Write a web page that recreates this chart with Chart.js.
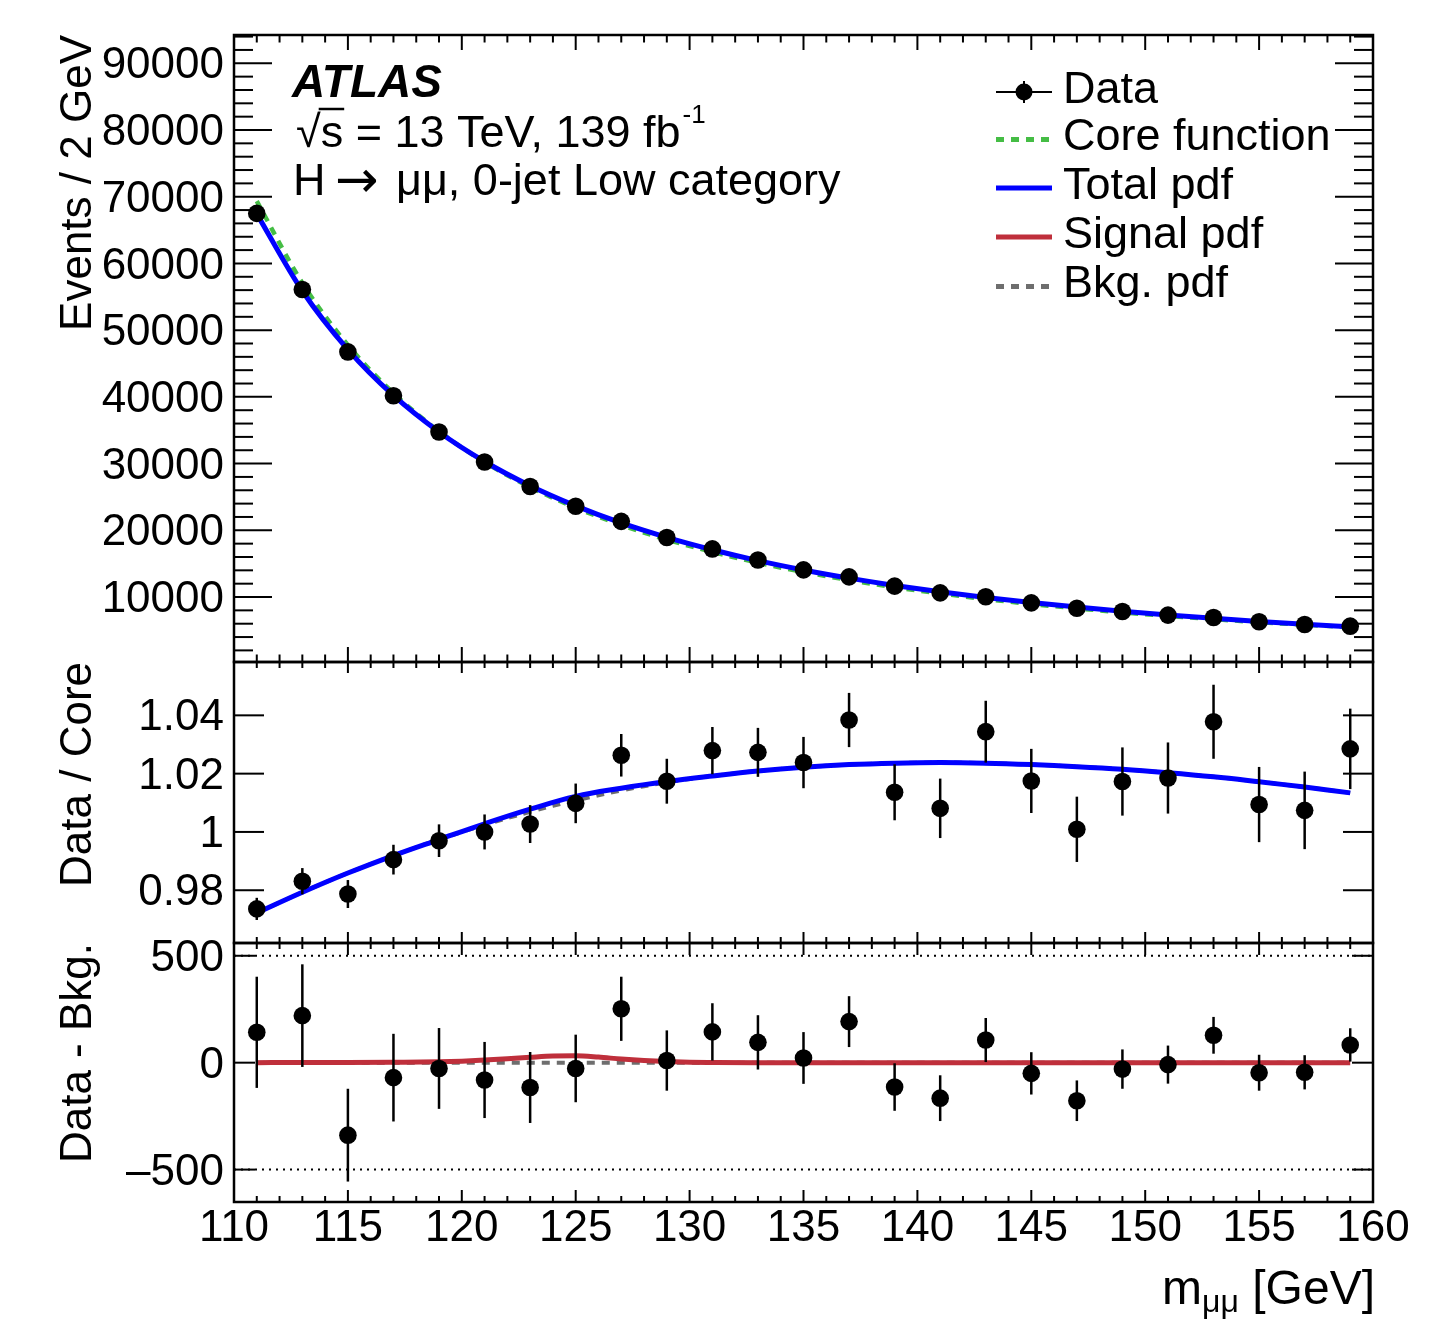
<!DOCTYPE html>
<html>
<head>
<meta charset="utf-8">
<script src="https://cdn.jsdelivr.net/npm/chart.js@4.4.1/dist/chart.umd.min.js"></script>
<style>
html,body{margin:0;padding:0;background:#fff;width:1449px;height:1321px;overflow:hidden;}
canvas{position:absolute;left:0;}
</style>
</head>
<body>
<canvas id="cTop" width="1449" height="700" style="top:0px"></canvas>
<canvas id="cMid" width="1449" height="360" style="top:620px"></canvas>
<canvas id="cBot" width="1449" height="421" style="top:900px"></canvas>
<script>
// ---------------- data ----------------
const masses = [111,113,115,117,119,121,123,125,127,129,131,133,135,137,139,141,143,145,147,149,151,153,155,157,159];
const eventsData = [67500,56100,46740,40160,34730,30230,26560,23610,21340,18930,17210,15550,14070,13020,11630,10620,10030,9120,8310,7830,7290,6930,6290,5880,5630];
const coreFunction = [69330,57060,47760,40550,34830,30230,26480,23390,20790,18610,16750,15140,13750,12540,11470,10530,9700,8960,8300,7700,7160,6680,6230,5840,5470];
const totalPdf = [67430,55870,47090,40210,34740,30310,26680,23660,21100,18940,17080,15460,14060,12830,11740,10780,9930,9170,8490,7870,7310,6800,6340,5920,5550];

const ratioData = [0.9736,0.9831,0.9787,0.9905,0.9970,1.0000,1.0027,1.0098,1.0263,1.0174,1.0279,1.0273,1.0238,1.0384,1.0136,1.0081,1.0344,1.0175,1.0009,1.0173,1.0185,1.0378,1.0094,1.0074,1.0285];
const ratioErr = [0.0038,0.0045,0.0048,0.0051,0.0056,0.0060,0.0065,0.0068,0.0073,0.0077,0.0081,0.0084,0.0088,0.0093,0.0096,0.0102,0.0106,0.0110,0.0112,0.0117,0.0122,0.0127,0.0129,0.0133,0.0138];
const ratioTotal = [0.9722,0.9793,0.9859,0.9919,0.9974,1.0028,1.0078,1.0122,1.0150,1.0173,1.0192,1.0209,1.0222,1.0231,1.0236,1.0238,1.0236,1.0231,1.0224,1.0215,1.0203,1.0189,1.0172,1.0154,1.0134];
const ratioBkg = [0.9722,0.9793,0.9859,0.9919,0.9974,1.0024,1.0069,1.0108,1.0142,1.0170,1.0192,1.0209,1.0222,1.0231,1.0236,1.0238,1.0236,1.0231,1.0224,1.0215,1.0203,1.0189,1.0172,1.0154,1.0134];

const diffData = [142,220,-339,-70,-27,-81,-116,-27,252,10,144,95,22,192,-114,-166,106,-50,-178,-30,-9,128,-47,-45,83];
const diffErr = [260,240,217,205,189,178,166,158,150,141,134,127,121,119,111,107,103,99,95,92,89,86,84,80,78];

const signalMass = [111,113,115,117,119,120,121,122,123,124,125,126,127,128,129,130,131,133,135,140,145,150,155,159];
const signalPdf = [0,1,1,2,4,7,12,18,25,31,32,26,17,10,5,2,1,0,0,0,0,0,0,0];
const bkgResidualMass = [111,159];
const bkgResidual = [0,0];

const xTicks = [110,115,120,125,130,135,140,145,150,155,160];
const eventsTicks = [10000,20000,30000,40000,50000,60000,70000,80000,90000];
const ratioTicks = [0.98,1,1.02,1.04];
const diffTicks = [-500,0,500];
const diffRefLines = [-500,500];

const legendLabels = ['Data','Core function','Total pdf','Signal pdf','Bkg. pdf'];

// ---------------- styling ----------------
const FONT = '"Liberation Sans", Arial, Helvetica, sans-serif';
const GREEN = '#45bd45', BLUE = '#0000ff', RED = '#bf2f3b', GRAY = '#6e6e6e';
const X_MIN = 110, X_MAX = 160;

function pts(xs, ys){ return xs.map((x,i)=>({x:x, y:ys[i]})); }
function seg(ctx,x1,y1,x2,y2){ ctx.beginPath(); ctx.moveTo(x1,y1); ctx.lineTo(x2,y2); ctx.stroke(); }

function yAxis(min, max, tickVals, fmt, title){
  return {
    type:'linear', position:'left', min:min, max:max,
    afterBuildTicks: s => { s.ticks = tickVals.map(v => ({value:v})); },
    afterFit: s => { s.width = 234; },
    grid:{display:false, drawTicks:false},
    border:{display:false},
    ticks:{padding:10, labelOffset:3, color:'#000', autoSkip:false, font:{family:FONT, size:44, lineHeight:1.0}, callback: fmt},
    title:{display:true, text:title, align:'end', color:'#000', font:{family:FONT, size:44, lineHeight:1.2}, padding:{top:52, bottom:0}}
  };
}
function hiddenX(){ return {type:'linear', min:X_MIN, max:X_MAX, display:false}; }

function framePlugin(o){
  return {
    id:'rootFrame',
    afterDraw(chart){
      const ctx = chart.ctx, a = chart.chartArea, xs = chart.scales.x, ys = chart.scales.y;
      ctx.save();
      ctx.strokeStyle = '#000'; ctx.lineWidth = 2; ctx.setLineDash([]);
      for (let v = X_MIN; v <= X_MAX; v += 1){
        const px = xs.getPixelForValue(v);
        const len = (v % 5 === 0) ? o.xMaj : o.xMin;
        seg(ctx, px, a.bottom, px, a.bottom - len);
        seg(ctx, px, a.top, px, a.top + len);
      }
      o.yTicks.forEach(v => {
        const py = ys.getPixelForValue(v);
        seg(ctx, a.left, py, a.left + o.yMaj, py);
        seg(ctx, a.right, py, a.right - o.yMaj, py);
      });
      if (o.yMinorStep){
        for (let v = o.yMinorStep; v < ys.max; v += o.yMinorStep){
          if (v < ys.min || v % o.yMajorStep === 0) continue;
          const py = ys.getPixelForValue(v);
          seg(ctx, a.left, py, a.left + o.yMin, py);
          seg(ctx, a.right, py, a.right - o.yMin, py);
        }
      }
      ctx.lineWidth = 2.5;
      ctx.strokeRect(a.left, a.top, a.right - a.left, a.bottom - a.top);
      ctx.restore();
    }
  };
}

const errorBarPlugin = {
  id:'errBars',
  afterDatasetsDraw(chart){
    const ctx = chart.ctx, xs = chart.scales.x, ys = chart.scales.y;
    chart.data.datasets.forEach(ds => {
      if (!ds.errorBars) return;
      ctx.save(); ctx.strokeStyle = '#000'; ctx.lineWidth = 2.5; ctx.setLineDash([]);
      ds.data.forEach((p,i) => {
        const e = ds.errorBars[i], px = xs.getPixelForValue(p.x);
        seg(ctx, px, ys.getPixelForValue(p.y + e), px, ys.getPixelForValue(p.y - e));
      });
      ctx.restore();
    });
  }
};

const refLinePlugin = {
  id:'refLines',
  beforeDatasetsDraw(chart){
    const ctx = chart.ctx, a = chart.chartArea, ys = chart.scales.y;
    ctx.save(); ctx.strokeStyle = '#000'; ctx.lineWidth = 2; ctx.setLineDash([2,5]);
    diffRefLines.forEach(v => { const py = ys.getPixelForValue(v); seg(ctx, a.left, py, a.right, py); });
    ctx.restore();
  }
};

const annotationPlugin = {
  id:'annot',
  afterDraw(chart){
    const ctx = chart.ctx;
    ctx.save();
    ctx.fillStyle = '#000'; ctx.textBaseline = 'alphabetic'; ctx.textAlign = 'left';
    ctx.font = 'italic bold 46px ' + FONT;
    ctx.fillText('ATLAS', 292, 97);
    ctx.font = '45px ' + FONT;
    const wr = ctx.measureText('\u221A').width;
    ctx.fillText('\u221A', 296, 147);
    const xs = 296 + wr;
    ctx.fillText('s = 13 TeV, 139 fb', xs, 147);
    const wS = ctx.measureText('s').width;
    const wAll = ctx.measureText('s = 13 TeV, 139 fb').width;
    ctx.strokeStyle = '#000'; ctx.lineWidth = 2.5;
    seg(ctx, xs - 2, 109, xs + wS + 1, 109);
    ctx.font = '26px ' + FONT;
    ctx.fillText('-1', xs + wAll + 2, 123);
    ctx.font = '45px ' + FONT;
    ctx.fillText('H', 293, 195);
    ctx.font = '52px "DejaVu Sans", ' + FONT;
    ctx.fillText('\u2192', 335, 197);
    ctx.font = '45px ' + FONT;
    ctx.fillText('\u03BC\u03BC, 0-jet Low category', 396, 195);

    // legend
    const rows = [92, 139.5, 188, 237, 286.5];
    const x1 = 996, x2 = 1052, xm = 1024, xt = 1063;
    legendLabels.forEach((lab,i) => { ctx.fillText(lab, xt, rows[i] + 10.5); });
    ctx.strokeStyle = '#000'; ctx.lineWidth = 2;
    seg(ctx, x1, rows[0], x2, rows[0]);
    seg(ctx, xm, rows[0] - 11, xm, rows[0] + 11);
    ctx.beginPath(); ctx.arc(xm, rows[0], 8.5, 0, Math.PI*2); ctx.fill();
    const lineEntry = (y, col, dash) => {
      ctx.strokeStyle = col; ctx.lineWidth = 5; ctx.setLineDash(dash);
      seg(ctx, x1, y, x2, y); ctx.setLineDash([]);
    };
    lineEntry(rows[1], GREEN, [8,7]);
    lineEntry(rows[2], BLUE, []);
    lineEntry(rows[3], RED, []);
    lineEntry(rows[4], GRAY, [8,7]);
    ctx.restore();
  }
};

const xTitlePlugin = {
  id:'xTitle',
  afterDraw(chart){
    const ctx = chart.ctx;
    ctx.save(); ctx.fillStyle = '#000'; ctx.textBaseline = 'alphabetic'; ctx.textAlign = 'left';
    ctx.font = '48px ' + FONT; const w1 = ctx.measureText('m').width; const w3 = ctx.measureText(' [GeV]').width;
    ctx.font = '32px ' + FONT; const w2 = ctx.measureText('\u03BC\u03BC').width;
    const x0 = 1375 - (w1 + w2 + w3);
    const base = 1304 - 900;
    ctx.font = '48px ' + FONT; ctx.fillText('m', x0, base);
    ctx.font = '32px ' + FONT; ctx.fillText('\u03BC\u03BC', x0 + w1, base + 8);
    ctx.font = '48px ' + FONT; ctx.fillText(' [GeV]', x0 + w1 + w2, base);
    ctx.restore();
  }
};

function baseOptions(pad){
  return {
    responsive:false, animation:false, devicePixelRatio:1, events:[],
    layout:{padding:pad},
    plugins:{legend:{display:false}, tooltip:{enabled:false}}
  };
}
function dataSet(xs, ys, errs){
  return {label:'Data', data:pts(xs, ys), showLine:false, pointRadius:8.8, pointBackgroundColor:'#000',
          pointBorderColor:'#000', pointBorderWidth:0, borderColor:'#000', errorBars:errs, order:0};
}
function curve(label, xs, ys, col, w, dash, ord, mono){
  const d = {label:label, data:pts(xs, ys), borderColor:col, borderWidth:w, borderDash:dash, pointRadius:0, fill:false, order:ord};
  if (mono) d.cubicInterpolationMode = 'monotone'; else d.tension = 0.4;
  return d;
}

// ---------------- top panel ----------------
const optTop = baseOptions({left:0, right:76, top:35, bottom:38});
optTop.scales = {
  x: hiddenX(),
  y: yAxis(260, 94240, eventsTicks, v => String(v), 'Events / 2 GeV')
};
new Chart(document.getElementById('cTop'), {
  type:'line',
  data:{datasets:[
    dataSet(masses, eventsData, null),
    curve('Total pdf', masses, totalPdf, BLUE, 5, [], 1, true),
    curve('Core function', masses, coreFunction, GREEN, 4.5, [8,7], 2, true)
  ]},
  options:optTop,
  plugins:[errorBarPlugin, framePlugin({xMaj:15, xMin:7.5, yTicks:eventsTicks, yMaj:38, yMin:19, yMinorStep:2000, yMajorStep:10000}), annotationPlugin]
});

// ---------------- ratio panel ----------------
const optMid = baseOptions({left:0, right:76, top:42, bottom:37});
optMid.scales = {
  x: hiddenX(),
  y: yAxis(0.9619, 1.0583, ratioTicks, v => String(v), 'Data / Core')
};
new Chart(document.getElementById('cMid'), {
  type:'line',
  data:{datasets:[
    dataSet(masses, ratioData, ratioErr),
    curve('Total pdf', masses, ratioTotal, BLUE, 5, [], 1, false),
    curve('Bkg. pdf', masses, ratioBkg, GRAY, 4, [8,7], 2, false)
  ]},
  options:optMid,
  plugins:[errorBarPlugin, framePlugin({xMaj:11, xMin:6, yTicks:ratioTicks, yMaj:30})]
});

// ---------------- residual panel ----------------
const optBot = baseOptions({left:0, right:76, top:43, bottom:0});
optBot.scales = {
  x: {
    type:'linear', min:X_MIN, max:X_MAX, position:'bottom',
    afterBuildTicks: s => { s.ticks = xTicks.map(v => ({value:v})); },
    afterFit: s => { s.height = 119; },
    grid:{display:false, drawTicks:false}, border:{display:false},
    ticks:{padding:0, color:'#000', autoSkip:false, maxRotation:0, font:{family:FONT, size:44, lineHeight:1.2}, callback: v => String(v)}
  },
  y: yAxis(-651.6, 559.7, diffTicks, v => (v < 0 ? '\u2013' + Math.abs(v) : String(v)), 'Data - Bkg.')
};
new Chart(document.getElementById('cBot'), {
  type:'line',
  data:{datasets:[
    dataSet(masses, diffData, diffErr),
    curve('Signal pdf', signalMass, signalPdf, RED, 5, [], 1, true),
    curve('Bkg. pdf', bkgResidualMass, bkgResidual, GRAY, 4, [8,7], 2, true)
  ]},
  options:optBot,
  plugins:[refLinePlugin, errorBarPlugin, framePlugin({xMaj:12, xMin:6, yTicks:diffTicks, yMaj:21}), xTitlePlugin]
});
</script>
</body>
</html>
